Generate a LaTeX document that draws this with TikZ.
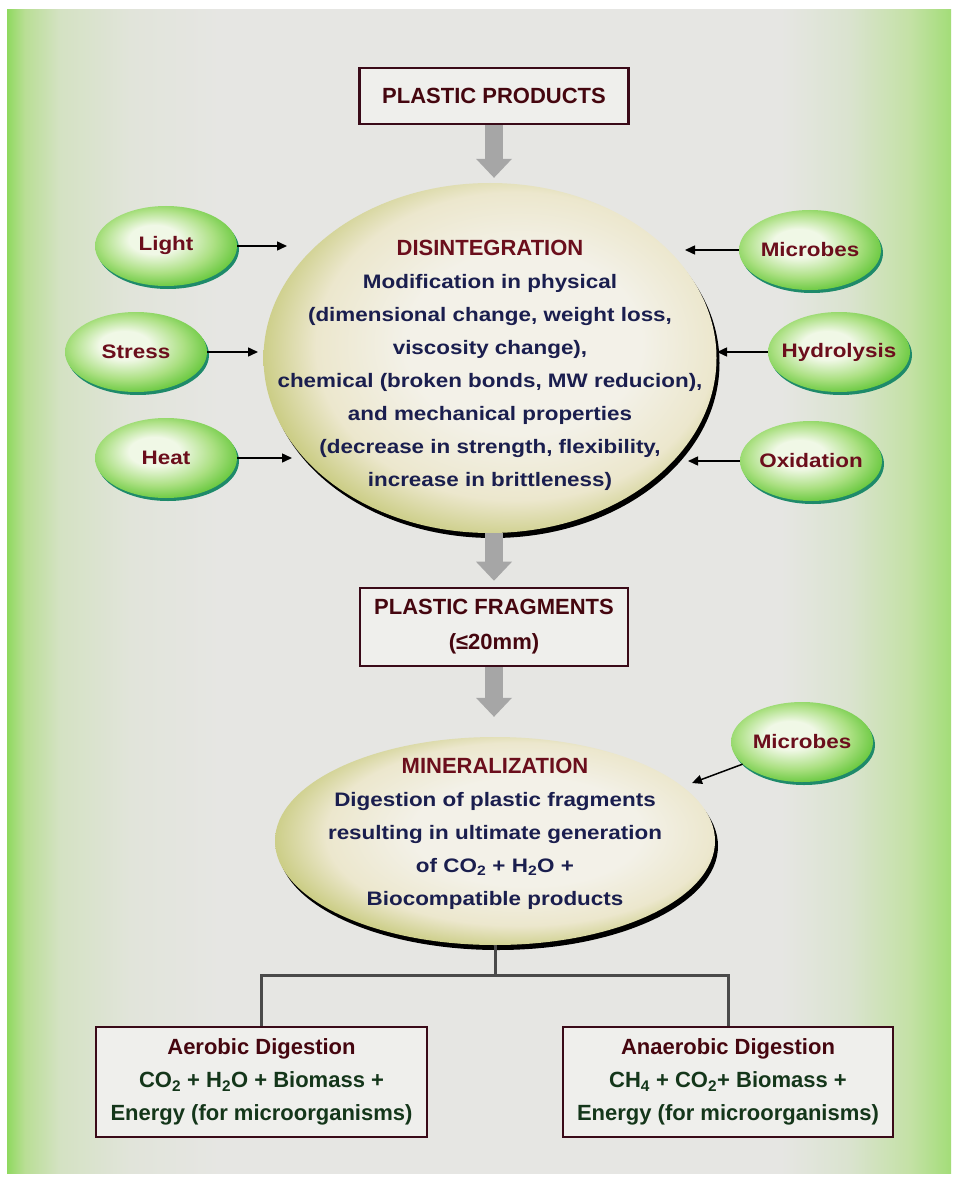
\documentclass[tikz,border=0pt]{standalone}
\usepackage{fontspec}
\setmainfont{Liberation Sans}
\newfontfamily\widesans[FakeStretch=1.15]{Liberation Sans}
\usetikzlibrary{arrows.meta, shapes.geometric, shadows}
\definecolor{bgmid}{HTML}{E6E6E3}
\definecolor{bgleft}{HTML}{8FD95F}
\definecolor{bgleftb}{HTML}{B9DE95}
\definecolor{bgleftc}{HTML}{D4E2C3}
\definecolor{bgleftd}{HTML}{E1E4DA}
\definecolor{bgright}{HTML}{A3DD78}
\definecolor{bgrightb}{HTML}{C4E1A6}
\definecolor{bgrightc}{HTML}{DAE3CF}
\definecolor{eggin}{HTML}{F3F1E8}
\definecolor{eggmid}{HTML}{ECE7CD}
\definecolor{eggout}{HTML}{C2C672}
\definecolor{ovalin}{HTML}{F0F8E6}
\definecolor{ovalmid}{HTML}{ABE082}
\definecolor{ovalout}{HTML}{62C638}
\definecolor{ovaledge}{HTML}{1E8A6A}
\definecolor{cmaroon}{HTML}{6B0E1C}
\definecolor{cdark}{HTML}{45060F}
\definecolor{cnavy}{HTML}{1A1E4E}
\definecolor{cgreen}{HTML}{14361A}
\definecolor{cedge}{HTML}{3A0A18}
\definecolor{cfill}{HTML}{EFEFEC}
\definecolor{cgrey}{HTML}{A6A6A6}
\definecolor{cline}{HTML}{4A4A4A}
\pgfdeclarehorizontalshading{bgshade}{100bp}{color(0bp)=(bgleft); color(25bp)=(bgleft);
  color(25.95bp)=(bgleftb); color(27.8bp)=(bgleftc); color(31.5bp)=(bgleftd); color(36.3bp)=(bgmid);
  color(66bp)=(bgmid); color(69.6bp)=(bgrightc); color(72.8bp)=(bgrightb); color(75bp)=(bgright); color(100bp)=(bgright)}
\pgfdeclareradialshading{eggshade}{\pgfpoint{5bp}{3bp}}{color(0bp)=(eggin); color(13bp)=(eggin);
  color(22bp)=(eggmid); color(29bp)=(eggout); color(50bp)=(eggout)}
\pgfdeclareradialshading{ovalshade}{\pgfpoint{-5bp}{5bp}}{color(0bp)=(ovalin); color(9bp)=(ovalin);
  color(20bp)=(ovalmid); color(29bp)=(ovalout); color(50bp)=(ovalout)}
\newcommand{\titlefnt}{\bfseries\fontsize{22}{35}\selectfont}
\newcommand{\bodyfnt}{\widesans\bfseries\fontsize{19.5}{33}\selectfont}
\newcommand{\leaffnt}{\bfseries\fontsize{22}{33}\selectfont}
\tikzset{
  box/.style={draw=cedge, fill=cfill, line width=2.6pt, align=center, inner sep=0pt},
  egg/.style={ellipse, inner sep=0pt, shade, shading=eggshade,
    drop shadow={shadow xshift=3pt, shadow yshift=-5pt, fill=black, opacity=1}},
  cause/.style={ellipse, inner sep=0pt, minimum width=142pt, minimum height=80pt, shade, shading=ovalshade,
    drop shadow={shadow xshift=2pt, shadow yshift=-3pt, fill=ovaledge, opacity=1},
    label={[text=cmaroon, font=\bodyfnt]center:#1}},
  arrow/.style={-{Triangle[length=10pt, width=9pt]}, line width=1.5pt, draw=black},
  fat/.style={-{Triangle[length=19pt, width=36pt, line width=0pt]}, line width=18pt, draw=cgrey},
  branch/.style={draw=cline, line width=3pt},
  body/.style={font=\bodyfnt, text=cnavy, align=center},
}

\begin{document}
\begin{tikzpicture}[x=1pt, y=-1pt]
  % backdrop
  \fill[white] (0,0) rectangle (954,1182);
  \shade[shading=bgshade] (7,10) rectangle (951,1173);
  \useasboundingbox (0,0) rectangle (954,1182);
  % products and disintegration
  \node[box, minimum width=269pt, minimum height=56pt, font=\titlefnt, text=cdark] (prod) at (494,96) {PLASTIC PRODUCTS};
  \node[egg, minimum width=453pt, minimum height=350pt] (dis) at (490,358) {};
  \node[body] (distxt) at (490,365) {{\normalfont\titlefnt\color{cmaroon}DISINTEGRATION}\\
    Modification in physical\\
    (dimensional change, weight loss,\\
    viscosity change),\\
    chemical (broken bonds, MW reducion),\\
    and mechanical properties\\
    (decrease in strength, flexibility,\\
    increase in brittleness)};
  \draw[fat, shorten >=5pt] (prod.south) -- (prod.south |- dis.north);
  % factors acting on the plastic
  \foreach \nm/\txt/\cx/\cy/\tipx in {light/Light/166/246/287, stress/Stress/136/352/258, heat/Heat/166/458/292,
      mic/Microbes/810/250/685, hyd/Hydrolysis/839/352/717, oxi/Oxidation/811/461/688} {
    \node[cause=\txt] (\nm) at (\cx,\cy) {};
    \coordinate (\nm-tip) at (\tipx,\cy);
    \draw[arrow] (\nm) -- (\nm-tip);
  }
  % fragments and mineralization
  \node[box, minimum width=268pt, minimum height=78pt, font=\titlefnt, text=cdark] (frag) at (494,627) {PLASTIC FRAGMENTS\\(≤20mm)};
  \draw[fat, shorten >=6pt] (frag.north |- dis.south) -- (frag.north);
  \node[egg, minimum width=440pt, minimum height=208pt] (minz) at (495,841) {};
  \node[body] (mintxt) at (495,834) {{\normalfont\titlefnt\color{cmaroon}MINERALIZATION}\\
    Digestion of plastic fragments\\
    resulting in ultimate generation\\
    of CO\textsubscript{2} + H\textsubscript{2}O +\\
    Biocompatible products};
  \draw[fat, shorten >=20pt] (frag.south) -- (frag.south |- minz.north);
  \node[cause=Microbes] (mic2) at (802,742) {};
  \coordinate (minz-tip) at (692,783);
  \draw[arrow] (mic2) -- (minz-tip);
  % two digestion routes
  \node[box, minimum width=331pt, minimum height=110pt, font=\leaffnt, text=cgreen] (aer) at (261.5,1082)
    {\textcolor{cdark}{Aerobic Digestion}\\ CO\textsubscript{2} + H\textsubscript{2}O + Biomass +\\ Energy (for microorganisms)};
  \node[box, minimum width=330pt, minimum height=110pt, font=\leaffnt, text=cgreen] (anaer) at (728,1082)
    {\textcolor{cdark}{Anaerobic Digestion}\\ CH\textsubscript{4} + CO\textsubscript{2}+ Biomass +\\ Energy (for microorganisms)};
  \coordinate (fork) at (495,975);
  \draw[branch] (minz.south) -- (fork);
  \draw[branch] (fork) -| (aer.north);
  \draw[branch] (fork) -| (anaer.north);
\end{tikzpicture}
\end{document}
